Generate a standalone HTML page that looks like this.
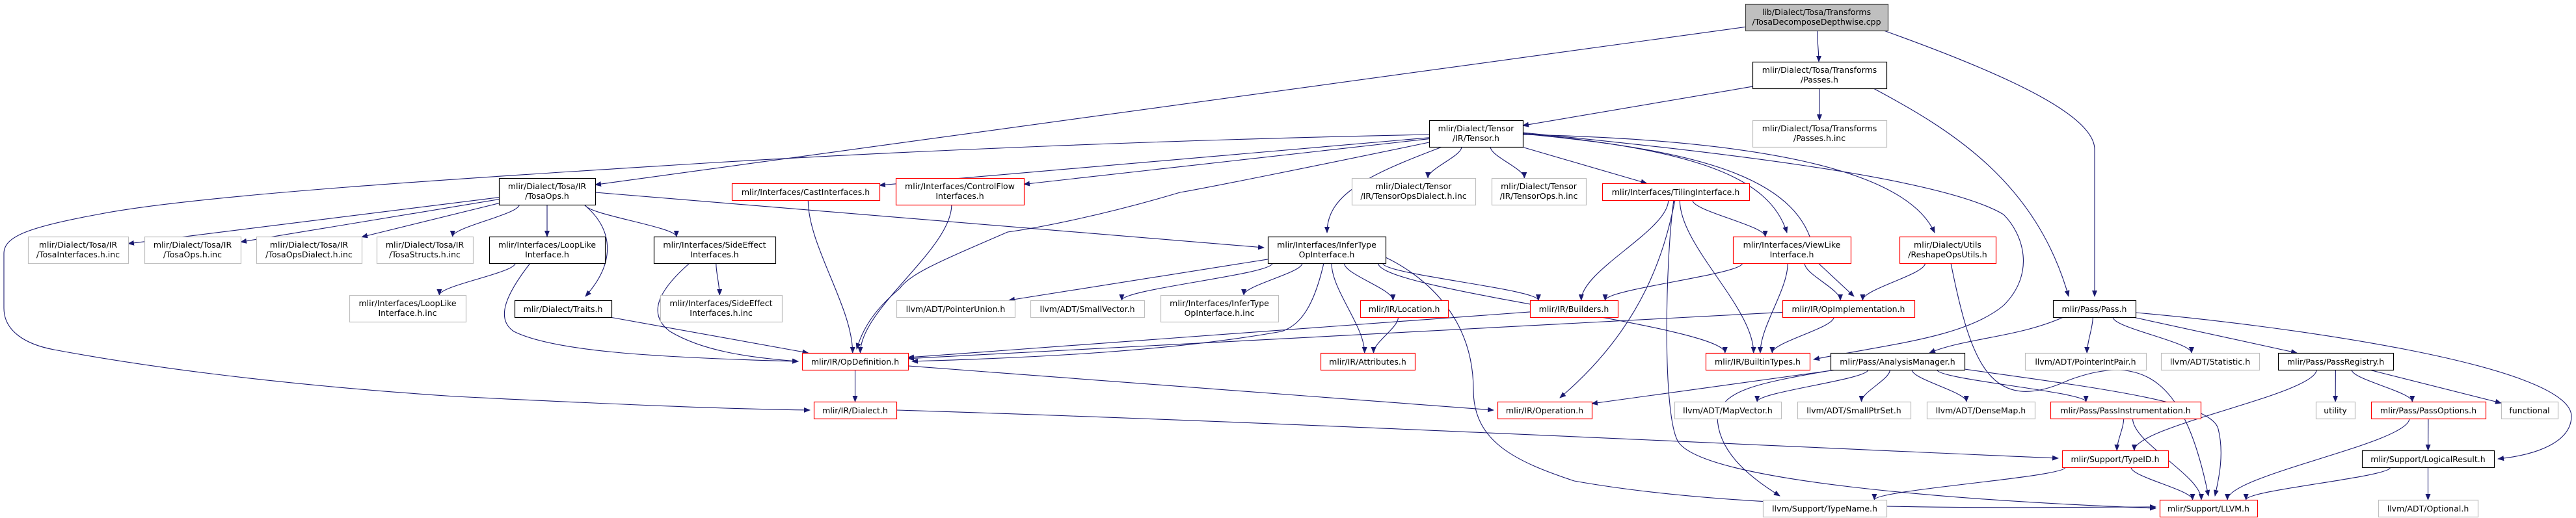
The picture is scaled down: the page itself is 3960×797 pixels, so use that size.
<!DOCTYPE html>
<html><head><meta charset="utf-8">
<style>
html,body{margin:0;padding:0;background:#fff;}
svg{display:block;}
text{font-family:"DejaVu Sans","Liberation Sans",sans-serif;font-size:12.5px;fill:#000;}
</style></head>
<body>
<svg id="g" width="3960" height="797" viewBox="0 0 3960 797" xmlns="http://www.w3.org/2000/svg">
<defs><marker id="ah" markerWidth="10" markerHeight="8" refX="9" refY="4" orient="auto" markerUnits="userSpaceOnUse"><path d="M0,0 L10,4 L0,8 z" fill="#191970"/></marker></defs>
<g id="edges"></g><g id="nodes"></g>
</svg>
<script>
const nodeIds = ["root","passes","passesinc","tensor","tosaops","cast","cflow","tdinc","toinc","tiling","tiinc","toopsinc","todiinc","tostinc","looplike","sideeff","infer","viewlike","reshape","loopinc","traits","sideinc","punion","svec","inferinc","location","builders","opimpl","pass","opdef","attrs","btypes","am","pip","stat","preg","dialect","operation","mapvec","sptr","dmap","pinst","utility","popts","functional","typeid","logres","typename","llvm","optional"];
const N = {
root:[2683,2902,6,41,"root",["lib/Dialect/Tosa/Transforms","/TosaDecomposeDepthwise.cpp"]],
passes:[2694,2900,95,41,"b",["mlir/Dialect/Tosa/Transforms","/Passes.h"]],
passesinc:[2694,2900,185,41,"g",["mlir/Dialect/Tosa/Transforms","/Passes.h.inc"]],
tensor:[2197,2341,185,41,"b",["mlir/Dialect/Tensor","/IR/Tensor.h"]],
tosaops:[767,915,274,41,"b",["mlir/Dialect/Tosa/IR","/TosaOps.h"]],
cast:[1125,1352,282,26,"r",["mlir/Interfaces/CastInterfaces.h"]],
cflow:[1377,1574,274,41,"r",["mlir/Interfaces/ControlFlow","Interfaces.h"]],
tdinc:[2078,2268,274,41,"g",["mlir/Dialect/Tensor","/IR/TensorOpsDialect.h.inc"]],
toinc:[2293,2438,274,41,"g",["mlir/Dialect/Tensor","/IR/TensorOps.h.inc"]],
tiling:[2463,2689,282,26,"r",["mlir/Interfaces/TilingInterface.h"]],
tiinc:[43,197,364,41,"g",["mlir/Dialect/Tosa/IR","/TosaInterfaces.h.inc"]],
toopsinc:[222,370,364,41,"g",["mlir/Dialect/Tosa/IR","/TosaOps.h.inc"]],
todiinc:[394,556,364,41,"g",["mlir/Dialect/Tosa/IR","/TosaOpsDialect.h.inc"]],
tostinc:[579,727,364,41,"g",["mlir/Dialect/Tosa/IR","/TosaStructs.h.inc"]],
looplike:[752,930,364,41,"b",["mlir/Interfaces/LoopLike","Interface.h"]],
sideeff:[1005,1192,364,41,"b",["mlir/Interfaces/SideEffect","Interfaces.h"]],
infer:[1949,2130,364,41,"b",["mlir/Interfaces/InferType","OpInterface.h"]],
viewlike:[2664,2845,364,41,"r",["mlir/Interfaces/ViewLike","Interface.h"]],
reshape:[2920,3068,364,41,"r",["mlir/Dialect/Utils","/ReshapeOpsUtils.h"]],
loopinc:[537,716,454,41,"g",["mlir/Interfaces/LoopLike","Interface.h.inc"]],
traits:[791,940,462,26,"b",["mlir/Dialect/Traits.h"]],
sideinc:[1015,1202,454,41,"g",["mlir/Interfaces/SideEffect","Interfaces.h.inc"]],
punion:[1378,1560,462,26,"g",["llvm/ADT/PointerUnion.h"]],
svec:[1584,1759,462,26,"g",["llvm/ADT/SmallVector.h"]],
inferinc:[1784,1965,454,41,"g",["mlir/Interfaces/InferType","OpInterface.h.inc"]],
location:[2091,2226,462,26,"r",["mlir/IR/Location.h"]],
builders:[2352,2487,462,26,"r",["mlir/IR/Builders.h"]],
opimpl:[2740,2943,462,26,"r",["mlir/IR/OpImplementation.h"]],
pass:[3156,3283,462,26,"b",["mlir/Pass/Pass.h"]],
opdef:[1233,1396,543,26,"r",["mlir/IR/OpDefinition.h"]],
attrs:[2030,2175,543,26,"r",["mlir/IR/Attributes.h"]],
btypes:[2622,2782,543,26,"r",["mlir/IR/BuiltinTypes.h"]],
am:[2814,3020,543,26,"b",["mlir/Pass/AnalysisManager.h"]],
pip:[3113,3299,543,26,"g",["llvm/ADT/PointerIntPair.h"]],
stat:[3322,3473,543,26,"g",["llvm/ADT/Statistic.h"]],
preg:[3502,3679,543,26,"b",["mlir/Pass/PassRegistry.h"]],
dialect:[1251,1378,618,26,"r",["mlir/IR/Dialect.h"]],
operation:[2302,2447,618,26,"r",["mlir/IR/Operation.h"]],
mapvec:[2574,2738,618,26,"g",["llvm/ADT/MapVector.h"]],
sptr:[2763,2937,618,26,"g",["llvm/ADT/SmallPtrSet.h"]],
dmap:[2962,3128,618,26,"g",["llvm/ADT/DenseMap.h"]],
pinst:[3152,3383,618,26,"r",["mlir/Pass/PassInstrumentation.h"]],
utility:[3560,3620,618,26,"g",["utility"]],
popts:[3645,3821,618,26,"r",["mlir/Pass/PassOptions.h"]],
functional:[3845,3932,618,26,"g",["functional"]],
typeid:[3170,3333,693,26,"r",["mlir/Support/TypeID.h"]],
logres:[3631,3834,693,26,"b",["mlir/Support/LogicalResult.h"]],
typename:[2710,2900,769,26,"g",["llvm/Support/TypeName.h"]],
llvm:[3320,3470,769,26,"r",["mlir/Support/LLVM.h"]],
optional:[3656,3809,769,26,"g",["llvm/ADT/Optional.h"]]
};
const edgeFrom = ["root","root","root","passes","passes","passes","tensor","tensor","tensor","tensor","tensor","tensor","tensor","tensor","tensor","tensor","tensor","tensor","tosaops","tosaops","tosaops","tosaops","tosaops","tosaops","tosaops","tosaops","looplike","looplike","traits","sideeff","sideeff","cast","cflow","infer","infer","infer","infer","infer","infer","infer","infer","infer","location","builders","tiling","tiling","tiling","tiling","tiling","viewlike","viewlike","viewlike","reshape","reshape","opimpl","opimpl","opdef","opdef","dialect","pass","pass","pass","pass","pass","am","am","am","am","am","am","am","pinst","pinst","preg","preg","preg","preg","popts","popts","typeid","typeid","logres","logres"];
const edgeTo = ["tosaops","passes","pass","tensor","passesinc","pass","cast","cflow","opdef","infer","tdinc","toinc","tiling","viewlike","opimpl","reshape","btypes","dialect","tiinc","toopsinc","todiinc","tostinc","looplike","traits","sideeff","infer","loopinc","opdef","opdef","sideinc","opdef","opdef","opdef","punion","svec","inferinc","location","attrs","builders","opdef","btypes","llvm","attrs","opdef","builders","viewlike","operation","btypes","llvm","builders","opimpl","btypes","opimpl","llvm","opdef","btypes","dialect","operation","typeid","am","pip","stat","preg","logres","operation","mapvec","sptr","dmap","pinst","llvm","typename","typeid","llvm","typeid","utility","popts","functional","logres","llvm","typename","llvm","llvm","optional"];
const custom = {
 "tensor>dialect":"M2197,207 C1800,215 1400,232 1100,250 C700,275 300,300 150,330 C40,350 6,365 6,390 L6,474 C6,510 40,530 83,538 C200,560 400,590 700,610 C1000,625 1150,630 1245,631",
 "tensor>sideeff":"M2197,210 C1700,225 1200,235 1120,255 C1095,265 1093,300 1093,358",
 "tensor>opdef":"M2197,219 C2000,260 1850,290 1814,296 C1700,330 1600,350 1549,357 C1450,400 1400,420 1383,444 C1340,480 1325,510 1317,537",
 "tensor>infer":"M2217,226 C2100,270 2040,300 2040,358",
 "tosaops>infer":"M915,296 L1943,381",
 "tosaops>traits":"M898,315 C940,350 950,400 900,456",
 "looplike>opdef":"M815,405 C780,450 760,490 790,510 C850,540 1000,550 1227,556",
 "sideeff>opdef":"M1060,405 C1020,440 990,480 1030,510 C1080,540 1150,550 1227,556",
 "infer>opdef":"M2035,405 C2020,470 2000,500 1970,510 C1800,540 1600,550 1402,556",
 "infer>llvm":"M2130,396 C2180,420 2265,480 2265,600 C2265,680 2330,710 2420,740 C2700,790 3100,780 3314,780",
 "tiling>llvm":"M2573,308 C2560,400 2555,640 2580,680 C2620,740 3000,770 3314,782",
 "tiling>operation":"M2575,308 C2560,380 2530,500 2398,612",
 "reshape>llvm":"M2999,405 C3030,560 3060,640 3180,585 C3300,540 3360,590 3395,763",
 "tensor>btypes":"M2341,204 C2600,230 2980,270 3080,330 C3110,360 3130,420 3080,470 C3020,520 2900,530 2788,553",
 "tensor>reshape":"M2341,207 C2700,215 2930,260 2974,358",
 "tensor>opimpl":"M2341,206 C2600,230 2780,270 2790,400 L2850,456",
 "tensor>viewlike":"M2341,205 C2600,230 2720,270 2747,358",
 "am>llvm":"M3020,568 C3250,600 3400,620 3410,660 C3420,700 3410,740 3405,763",
 "am>typename":"M2814,570 C2700,590 2650,600 2640,640 C2640,700 2700,740 2736,763",
 "pass>logres":"M3283,481 C3500,500 3950,560 3953,640 C3953,680 3900,700 3840,706",
 "pass>am":"M3172,488 C3100,520 3020,520 2966,543",
 "root>pass":"M2893,46 C3100,120 3220,180 3220,230 L3220,456",
 "passes>pass":"M2880,136 C3000,200 3130,280 3180,456",
 "dialect>typeid":"M1378,631 C2000,650 2800,690 3164,705",
 "opdef>operation":"M1396,563 L2296,631"
};
const cls = {root:["#bfbfbf","#404040"],b:["#fff","#000"],r:["#fff","#ff0000"],g:["#fff","#bfbfbf"]};
const svgNS="http://www.w3.org/2000/svg";
const gE=document.getElementById("edges"), gN=document.getElementById("nodes");
function box(id){const n=N[id];return {x1:n[0],x2:n[1],y1:n[2],y2:n[2]+n[3],cx:(n[0]+n[1])/2,cy:n[2]+n[3]/2};}
function clip(b,px,py){
 const dx=px-b.cx, dy=py-b.cy; const hw=(b.x2-b.x1)/2, hh=(b.y2-b.y1)/2;
 const t=Math.min(Math.abs(dx)>0?hw/Math.abs(dx):1e9, Math.abs(dy)>0?hh/Math.abs(dy):1e9);
 return [b.cx+dx*t,b.cy+dy*t];}
for(let i=0;i<edgeFrom.length;i++){
 const key=edgeFrom[i]+">"+edgeTo[i];
 let d=custom[key];
 if(!d){
  const a=box(edgeFrom[i]), b=box(edgeTo[i]);
  if(b.y1>=a.y2-1){
   const slope=(b.cx-a.cx)/(b.cy-a.cy);
   let sx=a.cx+slope*(a.y2-a.cy), ex=b.cx+slope*(b.y1-b.cy);
   const inS=sx>=a.x1+4&&sx<=a.x2-4, inE=ex>=b.x1+4&&ex<=b.x2-4;
   if(!inS||!inE){
    const s=clip(a,b.cx,b.cy), e=clip(b,a.cx,a.cy);
    d="M"+s[0].toFixed(1)+","+s[1].toFixed(1)+" L"+e[0].toFixed(1)+","+e[1].toFixed(1);
   } else {
    const sy=a.y2, ey=b.y1, k=(ey-sy)*0.3;
    d="M"+sx.toFixed(1)+","+sy+" C"+sx.toFixed(1)+","+(sy+k).toFixed(1)+" "+ex.toFixed(1)+","+(ey-k).toFixed(1)+" "+ex.toFixed(1)+","+ey;
   }
  } else {
   const s=clip(a,b.cx,b.cy), e=clip(b,a.cx,a.cy);
   d="M"+s[0].toFixed(1)+","+s[1].toFixed(1)+" L"+e[0].toFixed(1)+","+e[1].toFixed(1);
  }
 }
 const p=document.createElementNS(svgNS,"path");
 p.setAttribute("d",d);p.setAttribute("fill","none");p.setAttribute("stroke","#191970");p.setAttribute("stroke-width","1.1");
 p.setAttribute("marker-end","url(#ah)");
 
 
 gE.appendChild(p);
}
for(const id of nodeIds){
 const n=N[id], c=cls[n[4]];
 const g=document.createElementNS(svgNS,"g");
 
 
 const r=document.createElementNS(svgNS,"rect");
 r.setAttribute("x",n[0]+0.5);r.setAttribute("y",n[2]+0.5);r.setAttribute("width",n[1]-n[0]);r.setAttribute("height",n[3]);
 r.setAttribute("fill",c[0]);r.setAttribute("stroke",c[1]);r.setAttribute("stroke-width","1.2");
 g.appendChild(r);
 n[5].forEach((ln,k)=>{
  const t=document.createElementNS(svgNS,"text");
  t.setAttribute("x",(n[0]+n[1])/2);
  t.setAttribute("y",n[2]+(n[5].length===1?18:17+k*15));
  t.setAttribute("text-anchor","middle");
  t.textContent=ln;
  
  
  g.appendChild(t);
 });
 gN.appendChild(g);
}
</script>
</body></html>
